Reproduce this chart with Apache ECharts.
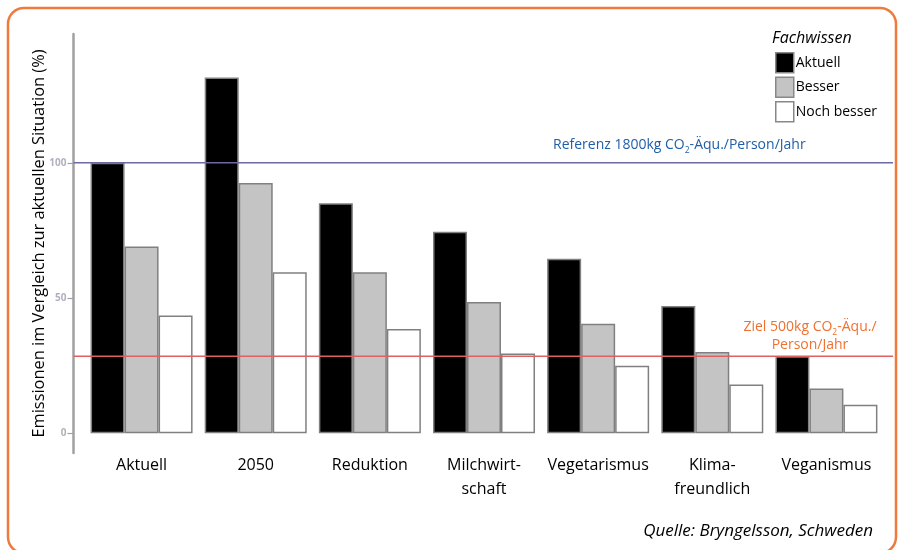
<!DOCTYPE html>
<html><head><meta charset="utf-8">
<script src="https://cdn.jsdelivr.net/npm/echarts@6/dist/echarts.min.js"></script>
<style>html,body{margin:0;padding:0;background:#fff}#c{width:904px;height:550px}</style>
</head><body><div id="c"></div>
<script>
const categories = ['Aktuell','2050','Reduktion','Milchwirt-\nschaft','Vegetarismus','Klima-\nfreundlich','Veganismus'];
const aktuell = [100, 131.5, 85, 74.5, 64.5, 47, 28.5];
const besser = [69, 92.5, 59.5, 48.5, 40.5, 30, 16.5];
const nochBesser = [43.5, 59.5, 38.5, 29.5, 25, 18, 10.5];
const referenzValue = 100;
const zielValue = 28.5;
const yTicks = [0, 50, 100];
const yMin = -7.3, yMax = 147.6;

const FONT = 'Open Sans';
const chart = echarts.init(document.getElementById('c'), null, {renderer:'canvas'});
const barBorder = {borderColor:'#808080', borderWidth:1.5};
chart.setOption({
  animation:false,
  textStyle:{fontFamily:FONT},
  grid:[
    {left:84.5, right:20.5, top:34, bottom:97},
    {left:73.5, right:11, top:34, bottom:97}
  ],
  xAxis:[
    {type:'category', gridIndex:0, data:categories,
     axisLine:{show:false}, axisTick:{show:false},
     axisLabel:{color:'#000', fontSize:16, fontFamily:FONT, margin:0, lineHeight:24, interval:0}},
    {type:'value', gridIndex:1, min:0, max:1, show:false}
  ],
  yAxis:[
    {type:'value', gridIndex:0, min:yMin, max:yMax, show:false},
    {type:'value', gridIndex:1, min:yMin, max:yMax,
     name:'Emissionen im Vergleich zur aktuellen Situation (%)',
     nameLocation:'middle', nameGap:26, nameMoveOverlap:false,
     nameTextStyle:{color:'#000', fontSize:16.4, fontFamily:FONT},
     axisLine:{show:true, lineStyle:{color:'#a0a0a0', width:2.5}},
     axisTick:{show:true, length:6, customValues:yTicks, lineStyle:{color:'#a0a0a8', width:1.2}},
     axisLabel:{customValues:yTicks, color:'#b0b0c0', fontSize:10, fontWeight:'bold', margin:7},
     splitLine:{show:false}}
  ],
  legend:{
    orient:'vertical', left:775, top:52, padding:0, itemWidth:18, itemHeight:20, itemGap:3,
    icon:'rect',
    itemStyle:{borderColor:'#888', borderWidth:1.5},
    textStyle:{color:'#000', fontSize:14, fontFamily:FONT, padding:[0,0,0,-3]},
    data:['Aktuell','Besser','Noch besser']
  },
  title:{text:'Fachwissen', left:772, top:30, padding:0,
    textStyle:{fontStyle:'italic', fontWeight:'normal', fontSize:16, color:'#000', fontFamily:FONT}},
  series:[
    {name:'Aktuell', type:'bar', xAxisIndex:0, yAxisIndex:0, data:aktuell, barWidth:34, barGap:'0%',
     itemStyle:Object.assign({color:'#000'}, barBorder)},
    {name:'Besser', type:'bar', xAxisIndex:0, yAxisIndex:0, data:besser, barWidth:34, barGap:'0%',
     itemStyle:Object.assign({color:'#c4c4c4'}, barBorder)},
    {name:'Noch besser', type:'bar', xAxisIndex:0, yAxisIndex:0, data:nochBesser, barWidth:34, barGap:'0%',
     itemStyle:Object.assign({color:'#fff'}, barBorder)},
    {name:'Referenz', type:'line', xAxisIndex:1, yAxisIndex:1, z:5, symbol:'none',
     data:[[0, referenzValue],[1, referenzValue]], lineStyle:{color:'#6a6aa6', width:1.5}},
    {name:'Ziel', type:'line', xAxisIndex:1, yAxisIndex:1, z:5, symbol:'none',
     data:[[0, zielValue],[1, zielValue]], lineStyle:{color:'#e06060', width:1.5}}
  ],
  graphic:[
    {type:'rect', shape:{x:8, y:8, width:888, height:545, r:16}, z:100,
     style:{fill:'none', stroke:'#f07a3c', lineWidth:2.5}},
    {type:'text', x:553, y:144, style:{
      text:'{a|Referenz 1800kg CO}{s|2}{a|-Äqu./Person/Jahr}',
      verticalAlign:'middle',
      rich:{a:{fontSize:14, fill:'#1f5fa8', color:'#1f5fa8', fontFamily:FONT, lineHeight:17, verticalAlign:'bottom'},
            s:{fontSize:8.5, fill:'#1f5fa8', color:'#1f5fa8', fontFamily:FONT, lineHeight:17, verticalAlign:'bottom', padding:[0,0,-3,0]}}
    }},
    {type:'text', x:810, y:334, style:{
      text:'{a|Ziel 500kg CO}{s|2}{a|-Äqu./}\n{a|Person/Jahr}',
      align:'center', verticalAlign:'middle',
      rich:{a:{fontSize:14, fill:'#f07030', color:'#f07030', fontFamily:FONT, lineHeight:18, verticalAlign:'bottom'},
            s:{fontSize:8.5, fill:'#f07030', color:'#f07030', fontFamily:FONT, lineHeight:18, verticalAlign:'bottom', padding:[0,0,-3,0]}}
    }},
    {type:'text', x:873, y:531, style:{
      text:'Quelle: Bryngelsson, Schweden', align:'right', verticalAlign:'middle',
      fontSize:17, fontStyle:'italic', fill:'#000', fontFamily:FONT}}
  ]
});
</script></body></html>
